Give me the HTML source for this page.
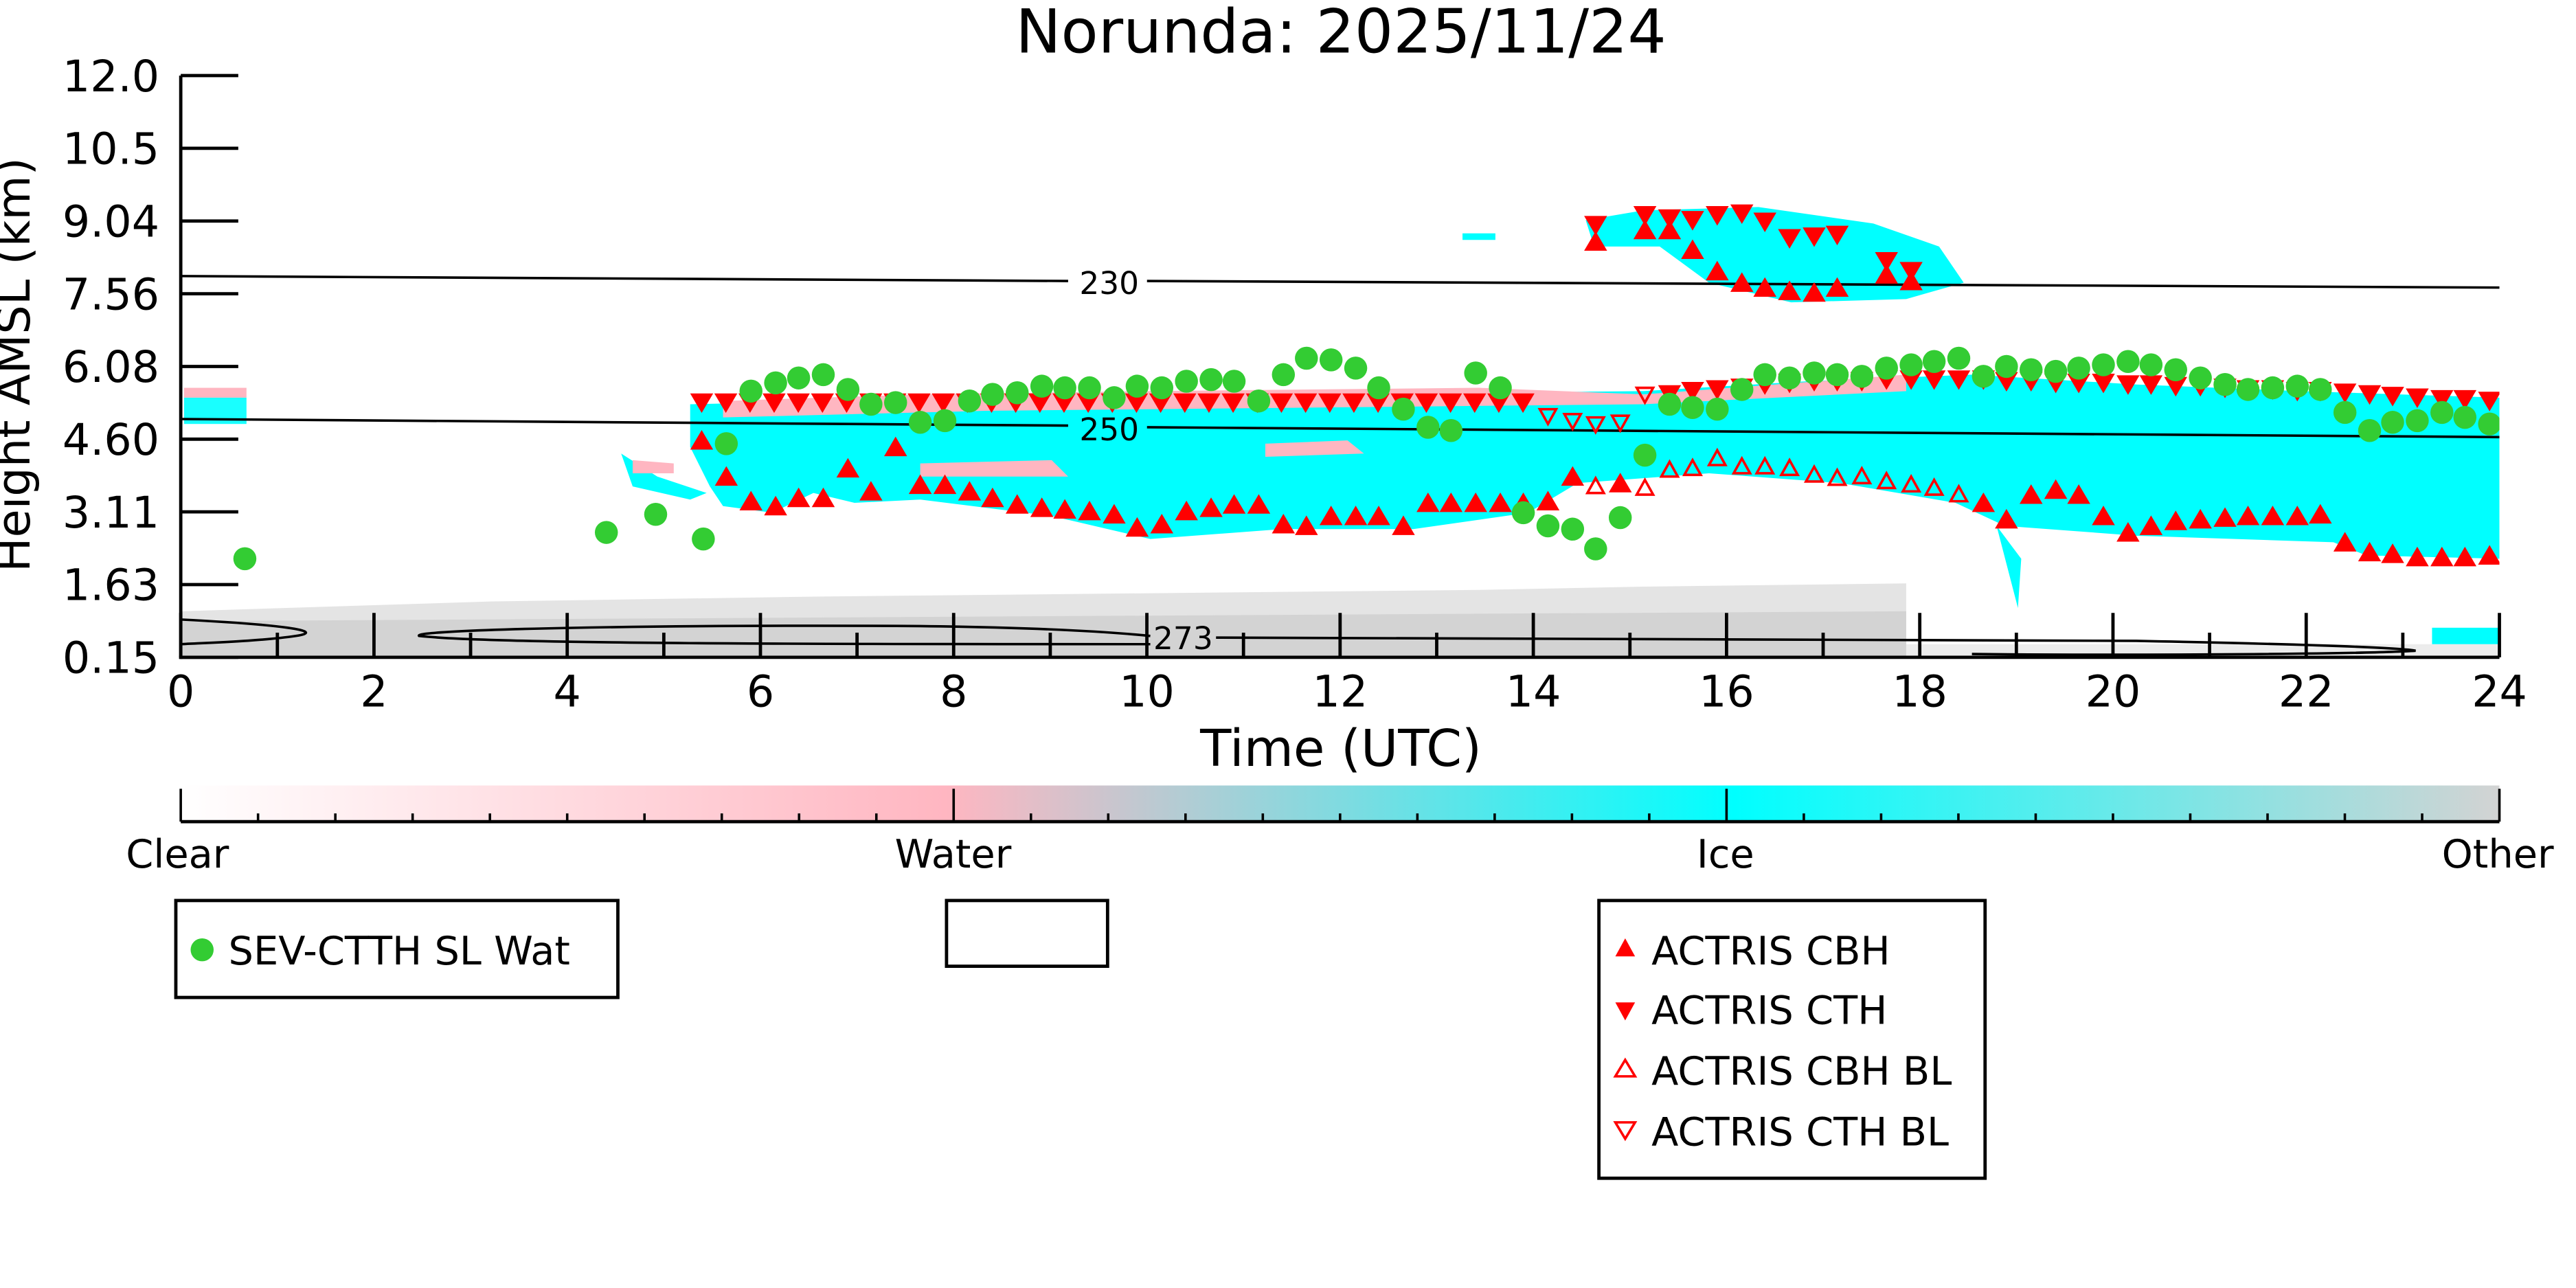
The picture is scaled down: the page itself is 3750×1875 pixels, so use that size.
<!DOCTYPE html>
<html><head><meta charset="utf-8"><style>
html,body{margin:0;padding:0;background:#fff;}
svg{display:block;}
text{font-family:"DejaVu Sans","Liberation Sans",sans-serif;}
</style></head><body>
<svg id="s" width="3750" height="1875" viewBox="0 0 1567.6 783.8" preserveAspectRatio="none" xmlns="http://www.w3.org/2000/svg">
<defs>
<linearGradient id="cb" x1="0" x2="1" y1="0" y2="0">
<stop offset="0" stop-color="#ffffff"/>
<stop offset="0.33" stop-color="#ffb6c1"/>
<stop offset="0.67" stop-color="#00ffff"/>
<stop offset="1" stop-color="#d3d3d3"/>
</linearGradient>
<clipPath id="pc"><rect x="110" y="46" width="1411" height="354"/></clipPath>
</defs>
<text x="816" y="32" font-size="37" text-anchor="middle">Norunda: 2025/11/24</text>
<g clip-path="url(#pc)">
<polygon fill="#e4e4e4" points="110,372 300,366 500,363 700,361 900,359 1000,357 1160,355 1160,400 110,400"/>
<polygon fill="#d3d3d3" points="110,378 1160,372 1160,400 110,400"/>
<rect x="1160" y="392" width="361" height="8" fill="#ececec"/>
<rect x="112" y="236" width="38" height="6" fill="#ffb6c1"/>
<rect x="112" y="242" width="38" height="16" fill="#00ffff" opacity="0.9"/>
<polygon fill="#00ffff" points="420,246 600,242 800,240 1000,238 1100,232 1200,228 1300,234 1400,238 1521,242 1521,340 1440,338 1420,330 1300,326 1220,320 1190,306 1120,294 1040,288 960,294 930,312 860,322 780,322 700,328 640,314 560,304 520,306 495,300 470,312 440,308 432,296 420,272"/>
<polygon fill="#00ffff" points="1200,300 1230,340 1228,370 1215,320"/>
<polygon fill="#00ffff" points="378,276 400,290 430,300 420,304 385,296"/>
<polygon fill="#ffb6c1" points="440,244 560,240 700,238 900,236 1000,240 1160,228 1160,238 1000,246 800,248 600,250 440,254"/>
<polygon fill="#ffb6c1" points="560,282 640,280 650,290 560,290"/>
<polygon fill="#ffb6c1" points="770,270 820,268 830,276 770,278"/>
<polygon fill="#ffb6c1" points="385,280 410,282 410,288 385,288"/>
<polygon fill="#00ffff" points="965,134 1000,128 1070,126 1140,136 1180,150 1195,172 1160,182 1090,184 1040,172 1010,150 970,150"/>
<rect x="890" y="142" width="20" height="4" fill="#00ffff"/>
<rect x="1480" y="382" width="41" height="10" fill="#00ffff"/>
<polyline fill="none" stroke="#000" stroke-width="1.5" points="110,168 650,171"/>
<polyline fill="none" stroke="#000" stroke-width="1.5" points="698,171 1521,175"/>
<text x="675" y="179" font-size="19" text-anchor="middle">230</text>
<polyline fill="none" stroke="#000" stroke-width="1.5" points="110,255 650,259"/>
<polyline fill="none" stroke="#000" stroke-width="1.5" points="698,260 1521,266"/>
<text x="675" y="268" font-size="19" text-anchor="middle">250</text>
<path fill="none" stroke="#000" stroke-width="1.5" d="M110,377 C170,380 200,384 180,387 C160,390 130,391 110,392"/>
<path fill="none" stroke="#000" stroke-width="1.5" d="M700,392 C500,392 300,392 255,387 C250,383 400,380 560,381 C640,382 680,385 700,387"/>
<path fill="none" stroke="#000" stroke-width="1.5" d="M740,388 C900,388 1100,389 1300,390 C1400,392 1460,394 1470,396 C1440,398 1300,399 1200,398"/>
<text x="720" y="395" font-size="19" text-anchor="middle">273</text>
<g id="mk"></g>
</g>
<g stroke="#000" stroke-width="2" fill="none" id="ax">
<line x1="110" y1="46" x2="110" y2="401"/>
<line x1="109" y1="400" x2="1521" y2="400"/>
</g>
<g font-size="26.5" id="lab"></g>
<text transform="translate(18,222) rotate(-90)" font-size="28" text-anchor="middle">Height AMSL (km)</text>
<text x="816" y="466" font-size="31" text-anchor="middle">Time (UTC)</text>
<rect x="110" y="478" width="1411" height="22" fill="url(#cb)"/>
<line x1="110" y1="500" x2="1521" y2="500" stroke="#000" stroke-width="2"/>
<g id="cbt" stroke="#000" stroke-width="1.5"></g>
<g font-size="24" text-anchor="middle">
<text x="108" y="528">Clear</text><text x="580" y="528">Water</text><text x="1050" y="528">Ice</text><text x="1520" y="528">Other</text>
</g>
<rect x="107" y="548" width="269" height="59" fill="#fff" stroke="#000" stroke-width="2"/>
<circle cx="123" cy="578" r="7" fill="#33cc33"/>
<text x="139" y="587" font-size="24">SEV-CTTH SL Wat</text>
<rect x="576" y="548" width="98" height="40" fill="#fff" stroke="#000" stroke-width="2"/>
<rect x="973" y="548" width="235" height="169" fill="#fff" stroke="#000" stroke-width="2"/>
<polygon points="989,571 983,582 995,582" fill="#ff0000"/>
<text x="1005" y="587" font-size="24">ACTRIS CBH</text>
<polygon points="983,610 995,610 989,621" fill="#ff0000"/>
<text x="1005" y="623" font-size="24">ACTRIS CTH</text>
<polygon points="989,645 983,655 995,655" fill="none" stroke="#ff0000" stroke-width="1.5"/>
<text x="1005" y="660" font-size="24">ACTRIS CBH BL</text>
<polygon points="983,683 995,683 989,693" fill="none" stroke="#ff0000" stroke-width="1.5"/>
<text x="1005" y="697" font-size="24">ACTRIS CTH BL</text>
</svg>
<script>
var NS="http://www.w3.org/2000/svg";
function el(p,t,a){var e=document.createElementNS(NS,t);for(var k in a)e.setAttribute(k,a[k]);p.appendChild(e);return e;}
var mk=document.getElementById("mk");
var G=[[149,340],[369,324],[399,313],[428,328],[442,270],[457,238],[472,233],[486,230],[501,228],[516,237],[530,246],[545,245],[560,257],[575,256],[590,244],[604,240],[619,239],[634,235],[648,236],[663,236],[678,242],[692,235],[707,236],[722,232],[737,231],[751,232],[766,244],[781,228],[795,218],[810,219],[825,224],[839,236],[854,249],[869,260],[883,262],[898,227],[913,236],[927,312],[942,320],[957,322],[971,334],[986,315],[1001,277],[1016,246],[1030,248],[1045,249],[1060,237],[1074,228],[1089,230],[1104,227],[1118,228],[1133,229],[1148,224],[1163,222],[1177,220],[1192,218],[1207,229],[1221,223],[1236,225],[1251,226],[1265,224],[1280,222],[1295,220],[1309,222],[1324,225],[1339,230],[1354,234],[1368,237],[1383,236],[1398,235],[1412,237],[1427,251],[1442,262],[1456,257],[1471,256],[1486,251],[1500,254],[1515,258]];
var UP=[[427,268],[442,290],[457,305],[472,308],[486,303],[501,303],[516,285],[530,299],[545,272],[560,295],[575,295],[590,299],[604,303],[619,307],[634,309],[648,310],[663,311],[678,313],[692,321],[707,319],[722,311],[737,309],[751,307],[766,307],[781,319],[795,320],[810,314],[825,314],[839,314],[854,320],[869,306],[883,306],[898,306],[913,306],[927,306],[942,305],[957,290],[986,294],
[971,147],[1001,140],[1016,140],[1030,152],[1045,165],[1060,172],[1074,175],[1089,177],[1104,178],[1118,175],[1148,167],[1163,171],
[1207,306],[1221,316],[1236,301],[1251,298],[1265,301],[1280,314],[1295,324],[1309,320],[1324,317],[1339,316],[1354,315],[1368,314],[1383,314],[1398,314],[1412,313],[1427,330],[1442,336],[1456,337],[1471,339],[1486,339],[1500,339],[1515,338]];
var UPH=[[971,296],[1001,297],[1016,286],[1030,285],[1045,279],[1060,284],[1074,284],[1089,285],[1104,289],[1118,291],[1133,290],[1148,293],[1163,295],[1177,297],[1192,301]];
var DN=[[971,137],[1001,131],[1016,133],[1030,134],[1045,131],[1060,130],[1074,135],[1089,145],[1104,144],[1118,143],[1148,159],[1163,165]];
for(var x=427;x<=930;x+=14.7)DN.push([x,245]);
var xs=[1016,1030,1045,1060,1074,1089,1104,1118,1133,1148,1163,1177,1192,1207,1221,1236,1251,1265,1280,1295,1309,1324,1339,1354,1368,1383,1398,1412,1427,1442,1456,1471,1486,1500,1515];
var ys=[240,238,237,236,234,233,232,232,232,231,231,231,231,231,232,232,233,233,233,234,234,235,235,236,237,237,238,238,239,240,241,242,243,243,244];
xs.forEach(function(x,i){DN.push([x,ys[i]]);});
var DNH=[[942,253],[957,256],[971,258],[986,257],[1001,240]];
var s=7;
DN.forEach(function(p){el(mk,"polygon",{points:(p[0]-s)+","+(p[1]-s*0.8)+" "+(p[0]+s)+","+(p[1]-s*0.8)+" "+p[0]+","+(p[1]+s*0.9),fill:"#ff0000"});});
DNH.forEach(function(p){el(mk,"polygon",{points:(p[0]-5)+","+(p[1]-4)+" "+(p[0]+5)+","+(p[1]-4)+" "+p[0]+","+(p[1]+5),fill:"none",stroke:"#ff0000","stroke-width":1.5});});
UP.forEach(function(p){el(mk,"polygon",{points:(p[0]-s)+","+(p[1]+s*0.8)+" "+(p[0]+s)+","+(p[1]+s*0.8)+" "+p[0]+","+(p[1]-s*0.9),fill:"#ff0000"});});
UPH.forEach(function(p){el(mk,"polygon",{points:(p[0]-5)+","+(p[1]+4)+" "+(p[0]+5)+","+(p[1]+4)+" "+p[0]+","+(p[1]-5),fill:"none",stroke:"#ff0000","stroke-width":1.5});});
G.forEach(function(p){el(mk,"circle",{cx:p[0],cy:p[1],r:7,fill:"#33cc33"});});
var ax=document.getElementById("ax"),lab=document.getElementById("lab");
var yl=["12.0","10.5","9.04","7.56","6.08","4.60","3.11","1.63","0.15"];
yl.forEach(function(t,i){var y=46+i*44.25;el(ax,"line",{x1:110,y1:y,x2:145,y2:y});var e=el(lab,"text",{x:97,y:y+9.5,"text-anchor":"end"});e.textContent=t;});
for(var h=0;h<=24;h++){var x=110+h*1411/24;var maj=h%2==0;el(ax,"line",{x1:x,y1:400,x2:x,y2:maj?373:385});if(maj){var e=el(lab,"text",{x:x,y:430,"text-anchor":"middle"});e.textContent=h;}}
var cbt=document.getElementById("cbt");
for(var i=0;i<=30;i++){var x=110+i*1411/30;el(cbt,"line",{x1:x,y1:500,x2:x,y2:(i%10==0)?480:495});}
</script>
</body></html>
